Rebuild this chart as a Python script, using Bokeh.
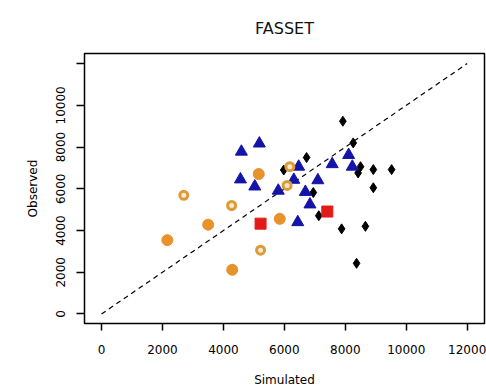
import math
from bokeh.plotting import figure
from bokeh.models import FixedTicker, Range1d
from bokeh.embed import file_html
from bokeh.resources import INLINE

# ---- data (Simulated vs Observed) ----
orange_x = [5160, 3500, 5850, 2160, 4290]
orange_y = [6710, 4280, 4560, 3540, 2120]

ring_x = [2700, 4270, 5220, 6090, 6180]
ring_y = [5690, 5200, 3060, 6160, 7060]

red_x = [5220, 7410]
red_y = [4330, 4910]

blue_x = [5180, 4590, 4560, 5030, 5800, 6470, 6310, 7100, 7570, 8110, 8230, 6690, 6840, 6440]
blue_y = [8170, 7780, 6450, 6110, 5910, 7060, 6430, 6410, 7180, 7620, 7060, 5850, 5250, 4400]

black_x = [7920, 8260, 6730, 5980, 8500, 8420, 8920, 9520, 8920, 6950, 7130, 7880, 8660, 8370]
black_y = [9240, 8200, 7500, 6900, 7060, 6760, 6920, 6920, 6050, 5820, 4710, 4080, 4200, 2430]

line_ends = [0, 12000]
x_ticks = [0, 2000, 4000, 6000, 8000, 10000, 12000]
y_ticks = [0, 2000, 4000, 6000, 8000, 10000, 12000]
y_tick_overrides = {12000: ""}

FONT = "DejaVu Sans"

p = figure(width=486, height=389, output_backend="svg", toolbar_location=None,
           x_range=Range1d(-558, 12568), y_range=Range1d(-456, 12485),
           min_border_left=84, min_border_right=2, min_border_top=49, min_border_bottom=65)

p.title.text = "FASSET"
p.title.align = "center"
p.title.text_font = FONT
p.title.text_font_size = "16px"
p.title.text_font_style = "normal"
p.title.text_color = "#111111"
p.title.standoff = 32

p.xgrid.visible = False
p.ygrid.visible = False
p.outline_line_color = "black"
p.outline_line_width = 1.5
p.background_fill_color = "white"
p.border_fill_color = "white"

for ax in (p.xaxis[0], p.yaxis[0]):
    ax.axis_line_color = None
    ax.major_tick_in = 0
    ax.major_tick_out = 7
    ax.major_tick_line_color = "black"
    ax.major_tick_line_width = 1.5
    ax.minor_tick_line_color = None
    ax.major_label_text_font = FONT
    ax.major_label_text_font_size = "12px"
    ax.major_label_text_color = "black"
    ax.axis_label_text_font = FONT
    ax.axis_label_text_font_size = "12px"
    ax.axis_label_text_font_style = "normal"
    ax.axis_label_text_color = "black"

p.xaxis.ticker = FixedTicker(ticks=x_ticks)
p.yaxis.ticker = FixedTicker(ticks=y_ticks)
p.yaxis.major_label_overrides = y_tick_overrides
p.yaxis.major_label_orientation = "parallel"
p.yaxis.major_tick_out = 8
p.xaxis.major_label_standoff = 14
p.yaxis.major_label_standoff = 11
p.xaxis.axis_label = "Simulated"
p.yaxis.axis_label = "Observed"
p.xaxis.axis_label_standoff = 16
p.yaxis.axis_label_standoff = 14

# 1:1 line
p.line(line_ends, line_ends, line_color="black", line_width=1.2, line_dash="5 4")

p.scatter(black_x, black_y, marker="diamond", size=10, fill_color="black", line_color="black")
p.scatter(blue_x, blue_y, marker="triangle", size=12, fill_color="#1414A8", line_color="#1414A8")
p.scatter(orange_x, orange_y, marker="circle", size=11, fill_color="#E8922A", line_color="#E8922A")
p.scatter(ring_x, ring_y, marker="circle", size=8, fill_color="#F6EBD2", line_color="#DE9A35", line_width=3)
p.scatter(red_x, red_y, marker="square", size=11, fill_color="#E21A1A", line_color="#E21A1A")

open("out.html", "w").write(file_html(p, INLINE))
